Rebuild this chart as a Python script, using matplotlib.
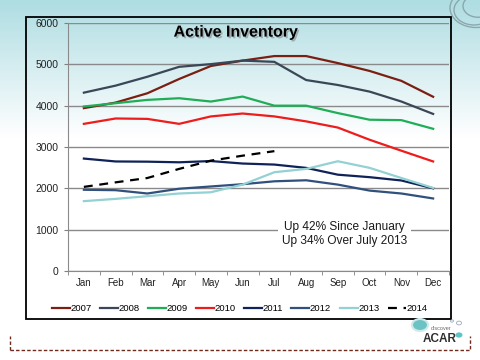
import matplotlib
matplotlib.use("Agg")
import matplotlib.pyplot as plt
import matplotlib.patheffects as pe
from matplotlib.patches import Rectangle, Circle
from matplotlib.lines import Line2D
import numpy as np

months = ["Jan", "Feb", "Mar", "Apr", "May", "Jun", "Jul", "Aug", "Sep", "Oct", "Nov", "Dec"]

inv_2007 = [3940, 4075, 4300, 4645, 4960, 5090, 5200, 5200, 5030, 4840, 4600, 4215]
inv_2008 = [4315, 4485, 4700, 4940, 5005, 5090, 5060, 4620, 4500, 4340, 4100, 3800]
inv_2009 = [3980, 4060, 4140, 4180, 4100, 4220, 4000, 4000, 3820, 3660, 3650, 3440]
inv_2010 = [3560, 3690, 3680, 3560, 3740, 3810, 3740, 3620, 3470, 3175, 2910, 2650]
inv_2011 = [2720, 2650, 2645, 2630, 2660, 2600, 2575, 2495, 2330, 2270, 2190, 2000]
inv_2012 = [1965, 1955, 1875, 1990, 2045, 2100, 2170, 2195, 2090, 1945, 1875, 1755]
inv_2013 = [1690, 1745, 1810, 1875, 1905, 2090, 2390, 2470, 2655, 2495, 2250, 2010]
inv_2014 = [2035, 2145, 2250, 2470, 2670, 2790, 2900]

series = [
    ("2007", inv_2007, "#7a1f12", "-"),
    ("2008", inv_2008, "#3b4756", "-"),
    ("2009", inv_2009, "#1fae57", "-"),
    ("2010", inv_2010, "#ee1c1c", "-"),
    ("2011", inv_2011, "#0f2358", "-"),
    ("2012", inv_2012, "#30507e", "-"),
    ("2013", inv_2013, "#93d1d3", "-"),
    ("2014", inv_2014, "#000000", "--"),
]

W, H = 480, 360
fig = plt.figure(figsize=(4.8, 3.6), dpi=100)
plt.rcParams["font.family"] = ["Liberation Sans", "DejaVu Sans"]

# slide background gradient
bg = fig.add_axes([0, 0, 1, 1], zorder=0)
rows = np.linspace(0, 1, H)
top = np.array([174, 221, 226]) / 255.0
fade = np.clip(rows / 0.38, 0, 1)[:, None]
grad = top * (1 - fade) + 1.0 * fade
img = np.repeat(grad[:, None, :], 2, axis=1)
bg.imshow(img, aspect="auto", extent=[0, 1, 1, 0])
bg.set_xlim(0, 1)
bg.set_ylim(1, 0)
bg.axis("off")


def fx(px):
    return px / W


def fy(py):
    return 1 - py / H


# chart frame
fig.patches.append(Rectangle((fx(26), fy(319)), fx(451) - fx(26), fy(17) - fy(319),
                             transform=fig.transFigure, fill=False, edgecolor="black",
                             linewidth=1.3, zorder=2))

ax = fig.add_axes([fx(68), fy(271), fx(449) - fx(68), fy(23) - fy(271)], zorder=3)
ax.patch.set_alpha(0)

x = np.arange(len(months))
for name, vals, color, ls in series:
    ax.plot(x[:len(vals)], vals, color=color, linestyle=ls, linewidth=1.6,
            label=name, dashes=(4, 3) if ls == "--" else (None, None), zorder=3)

ax.set_xlim(-0.5, 11.5)
ax.set_ylim(0, 6000)
ax.set_yticks(range(0, 6001, 1000))
ax.set_xticks(x)
ax.set_xticklabels(months)
ax.set_xticks(np.arange(-0.5, 12, 1), minor=True)
ax.tick_params(axis="x", which="major", length=0, labelsize=7, pad=5, colors="#222222")
ax.tick_params(axis="x", which="minor", length=3, color="#808080")
ax.tick_params(axis="y", length=3, labelsize=7.5, color="#808080", labelcolor="#222222", pad=4)
ax.grid(axis="y", color="#8a8a8a", linewidth=1, zorder=1)
for s in ["top", "right"]:
    ax.spines[s].set_visible(False)
for s in ["left", "bottom"]:
    ax.spines[s].set_color("#8a8a8a")

ax.text(4.79, 5780, "Active Inventory", ha="center", va="center", fontsize=11.5,
        fontweight="bold", color="black",
        path_effects=[pe.withSimplePatchShadow(offset=(1.2, -1.2), shadow_rgbFace="#888888", alpha=0.6)])

ax.text(8.21, 900, "Up 42% Since January\nUp 34% Over July 2013", ha="center", va="center",
        fontsize=8.6, linespacing=1.25, color="#1a1a1a",
        bbox=dict(facecolor="white", edgecolor="none", pad=3), zorder=4)

leg = ax.legend(loc="upper center", bbox_to_anchor=(0.45, -0.1), ncol=8, frameon=False,
                fontsize=6.8, handlelength=1.9, handletextpad=0.05, columnspacing=0.9)

# decorative circles top right
for cx, cy, r in [(476, 8, 26), (474, 10, 20), (478, 6, 15)]:
    fig.patches.append(Circle((fx(cx), fy(cy)), r / W, transform=fig.transFigure,
                              fill=False, edgecolor="#8aa8ae", linewidth=1.0, zorder=1))

# dashed footer border
fig.add_artist(Line2D([fx(10), fx(470), fx(470)], [fy(350), fy(350), fy(336)],
                      transform=fig.transFigure, color="#6e2a1c", linestyle=(0, (2.5, 1.5)),
                      linewidth=1.0))
fig.add_artist(Line2D([fx(10), fx(10)], [fy(350), fy(336)],
                      transform=fig.transFigure, color="#6e2a1c", linestyle=(0, (2.5, 1.5)),
                      linewidth=1.0))

# logo
fig.patches.append(Circle((fx(420), fy(325)), 8 / W, transform=fig.transFigure,
                          facecolor="#6cc3c4", edgecolor="#cfeaea", linewidth=1.5, zorder=5))
fig.patches.append(Circle((fx(459), fy(335)), 3.5 / W, transform=fig.transFigure,
                          facecolor="#5ec4c6", edgecolor="none", zorder=5))
fig.patches.append(Circle((fx(459), fy(323)), 2.5 / W, transform=fig.transFigure,
                          facecolor="none", edgecolor="#9ab", linewidth=0.6, zorder=5))
fig.patches.append(Circle((fx(452), fy(321)), 1.5 / W, transform=fig.transFigure,
                          facecolor="none", edgecolor="#9ab", linewidth=0.6, zorder=5))
fig.text(fx(431), fy(328), "discover", fontsize=4, color="#666666", va="center")
fig.text(fx(423), fy(339), "ACAR", fontsize=8.5, fontweight="bold", color="#2f2f2f", va="center")

fig.savefig("out.png", dpi=100)
